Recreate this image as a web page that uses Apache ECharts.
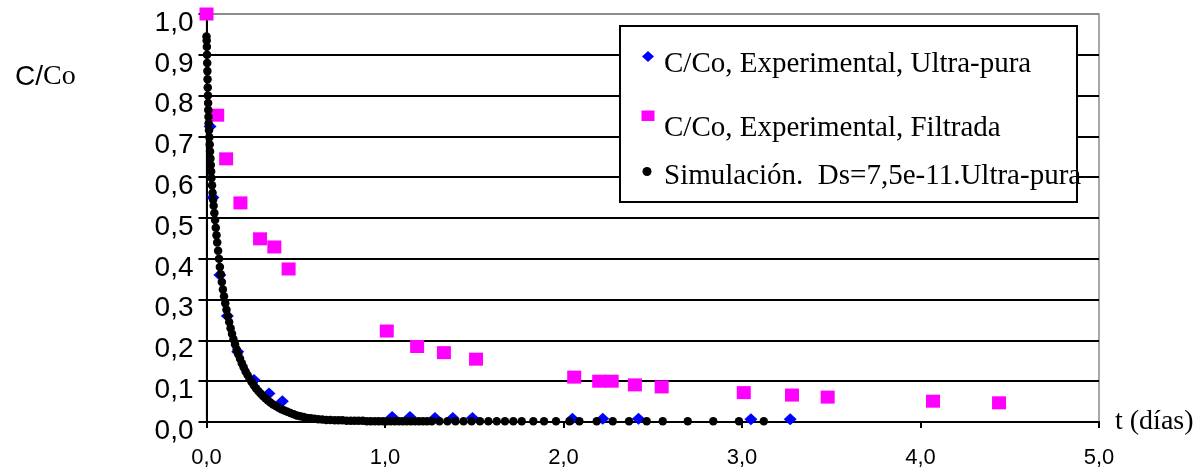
<!DOCTYPE html>
<html>
<head>
<meta charset="utf-8">
<script src="https://cdn.jsdelivr.net/npm/echarts@6/dist/echarts.min.js"></script>
<style>
  html, body { margin: 0; padding: 0; background: #fff; }
  #chart { width: 1204px; height: 472px; }
</style>
</head>
<body>
<div id="chart"></div>
<script>
// Series names (legend entries)
const nameUltra = 'C/Co, Experimental, Ultra-pura';
const nameFiltrada = 'C/Co, Experimental, Filtrada';
const nameSim = 'Simulación.  Ds=7,5e-11.Ultra-pura';

// Tick labels (decimal comma)
const xTickLabels = ['0,0', '1,0', '2,0', '3,0', '4,0', '5,0'];
const yTickLabels = ['0,0', '0,1', '0,2', '0,3', '0,4', '0,5', '0,6', '0,7', '0,8', '0,9', '1,0'];

// Experimental, ultra-pure water: time (days) and C/Co
const ultraT = [0.02, 0.036, 0.075, 0.117, 0.175, 0.266, 0.35, 0.425,
                1.04, 1.14, 1.28, 1.38, 1.49, 2.05, 2.22, 2.42, 3.05, 3.27];
const ultraC = [0.724, 0.55, 0.36, 0.26, 0.172, 0.103, 0.070, 0.051,
                0.012, 0.012, 0.010, 0.010, 0.010, 0.008, 0.008, 0.008, 0.007, 0.007];

// Experimental, filtered water: time (days) and C/Co
const filtT = [0.0, 0.06, 0.11, 0.19, 0.30, 0.38, 0.46, 1.01, 1.18, 1.33, 1.51,
               2.06, 2.20, 2.27, 2.40, 2.55, 3.01, 3.28, 3.48, 4.07, 4.44];
const filtC = [1.0, 0.752, 0.645, 0.537, 0.449, 0.429, 0.375, 0.223, 0.185, 0.170, 0.154,
               0.110, 0.100, 0.100, 0.091, 0.086, 0.072, 0.066, 0.061, 0.051, 0.047];

// Simulation, Ds = 7.5e-11: time (days) and C/Co
const simT = [0.000, 0.001, 0.002, 0.003, 0.004, 0.005, 0.006, 0.007, 0.008, 0.009,
              0.010, 0.011, 0.012, 0.014, 0.016, 0.018, 0.020, 0.022, 0.024, 0.026,
              0.028, 0.031, 0.034, 0.037, 0.040, 0.044, 0.048, 0.052, 0.056, 0.060,
              0.065, 0.070, 0.075, 0.080, 0.086, 0.092, 0.098, 0.105, 0.112, 0.119,
              0.127, 0.135, 0.143, 0.151, 0.160, 0.169, 0.178, 0.188, 0.198, 0.208,
              0.219, 0.230, 0.241, 0.253, 0.265, 0.277, 0.290, 0.303, 0.316, 0.330,
              0.344, 0.358, 0.373, 0.388, 0.404, 0.420, 0.436, 0.453, 0.470, 0.488,
              0.506, 0.525, 0.544, 0.564, 0.584, 0.605, 0.626, 0.648, 0.671, 0.694,
              0.718, 0.740, 0.762, 0.785, 0.808, 0.830, 0.852, 0.875, 0.898, 0.920,
              0.943, 0.965, 0.988, 1.010, 1.032, 1.055, 1.078, 1.100, 1.122, 1.145,
              1.168, 1.190, 1.213, 1.236, 1.262, 1.305, 1.350, 1.395, 1.440, 1.485,
              1.532, 1.579, 1.626, 1.672, 1.719, 1.766, 1.831, 1.891, 1.958, 2.033,
              2.089, 2.186, 2.276, 2.367, 2.466, 2.556, 2.696, 2.839, 2.983, 3.122];
const simC = [0.945, 0.935, 0.920, 0.900, 0.880, 0.860, 0.840, 0.820, 0.800, 0.782,
              0.765, 0.748, 0.732, 0.715, 0.698, 0.680, 0.663, 0.646, 0.630, 0.614,
              0.598, 0.580, 0.562, 0.545, 0.530, 0.512, 0.495, 0.476, 0.458, 0.440,
              0.420, 0.400, 0.380, 0.362, 0.343, 0.325, 0.308, 0.291, 0.275, 0.260,
              0.245, 0.230, 0.216, 0.203, 0.190, 0.178, 0.166, 0.155, 0.144, 0.134,
              0.124, 0.115, 0.106, 0.098, 0.090, 0.083, 0.076, 0.070, 0.064, 0.058,
              0.053, 0.048, 0.043, 0.039, 0.035, 0.031, 0.028, 0.025, 0.022, 0.019,
              0.016, 0.014, 0.012, 0.010, 0.009, 0.008, 0.007, 0.006, 0.005, 0.005,
              0.004, 0.004, 0.004, 0.003, 0.003, 0.003, 0.003, 0.003, 0.002, 0.002,
              0.002, 0.002, 0.002, 0.002, 0.002, 0.002, 0.002, 0.002, 0.002, 0.002,
              0.002, 0.002, 0.002, 0.002, 0.002, 0.002, 0.002, 0.002, 0.002, 0.002,
              0.002, 0.002, 0.002, 0.002, 0.002, 0.002, 0.002, 0.002, 0.002, 0.002,
              0.002, 0.002, 0.002, 0.002, 0.002, 0.002, 0.002, 0.002, 0.002, 0.002];

const pairs = (xs, ys) => xs.map((x, i) => [x, ys[i]]);

const sans = '"Liberation Sans", Arial, sans-serif';
const serif = '"Liberation Serif", "Times New Roman", serif';

const colorUltra = '#0000ff';
const colorFiltrada = '#ff00ff';
const colorSim = '#000000';

// Horizontal gridlines are black; the one on the top border is grey
const splitColors = yTickLabels.map((_, i) => (i === yTickLabels.length - 1 ? '#8c8c8c' : '#000'));

// One legend block per entry so each row sits at its own height;
// the key markers are drawn a little above the text line, as graphics.
const legendRow = (name, top) => ({
  data: [name],
  left: 649, top, padding: 0, itemWidth: 10, itemHeight: 10,
  selectedMode: false,
  itemStyle: { opacity: 0 },
  textStyle: { fontFamily: serif, fontSize: 29, color: '#000' }
});

const chart = echarts.init(document.getElementById('chart'), null, { renderer: 'canvas' });

chart.setOption({
  animation: false,
  backgroundColor: '#fff',
  title: {
    text: '{a|C/}{b|Co}',
    left: 10, top: 58,
    textStyle: {
      rich: {
        a: { fontFamily: sans, fontSize: 28, fontWeight: 'normal', color: '#000' },
        b: { fontFamily: serif, fontSize: 28, fontWeight: 'normal', color: '#000' }
      }
    }
  },
  grid: {
    left: 206.5, right: 105, top: 14, bottom: 50,
    show: true, borderColor: '#8c8c8c', borderWidth: 1.5, backgroundColor: 'transparent'
  },
  graphic: [
    {
      type: 'rect', z: 3,
      shape: { x: 620, y: 26, width: 457, height: 176 },
      style: { fill: '#fff', stroke: '#000', lineWidth: 2 }
    },
    {
      type: 'polygon', z: 5,
      shape: { points: [[648, 51], [654, 56.5], [648, 62], [642, 56.5]] },
      style: { fill: colorUltra }
    },
    {
      type: 'rect', z: 5,
      shape: { x: 641.5, y: 110.5, width: 13, height: 10.5 },
      style: { fill: colorFiltrada }
    },
    {
      type: 'circle', z: 5,
      shape: { cx: 647, cy: 171.5, r: 4.5 },
      style: { fill: colorSim }
    }
  ],
  legend: [
    legendRow(nameUltra, 49.5),
    legendRow(nameFiltrada, 114),
    legendRow(nameSim, 161.5)
  ],
  xAxis: {
    type: 'value', min: 0, max: 5, interval: 1,
    name: 't (días)', nameLocation: 'end', nameGap: 16,
    nameTextStyle: { fontFamily: serif, fontSize: 28, color: '#000', align: 'left', verticalAlign: 'middle' },
    axisLine: { show: true, onZero: false, lineStyle: { color: '#000', width: 2 } },
    axisTick: { show: true, inside: false, length: 6, lineStyle: { color: '#000', width: 2 } },
    axisLabel: {
      fontFamily: sans, fontSize: 22, color: '#000', margin: 25,
      formatter: v => xTickLabels[Math.round(v)]
    },
    splitLine: { show: false }
  },
  yAxis: {
    type: 'value', min: 0, max: 1, interval: 0.1,
    axisLine: { show: true, onZero: false, lineStyle: { color: '#000', width: 2 } },
    axisTick: { show: true, inside: false, length: 8, lineStyle: { color: '#000', width: 2 } },
    axisLabel: {
      fontFamily: sans, fontSize: 28, color: '#000', margin: 13,
      verticalAlign: 'top', lineHeight: 18,
      formatter: v => yTickLabels[Math.round(v * 10)]
    },
    splitLine: { show: true, lineStyle: { color: splitColors, width: 2 } }
  },
  series: [
    {
      name: nameUltra, type: 'scatter', symbol: 'diamond', symbolSize: [13, 12],
      itemStyle: { color: colorUltra, opacity: 1 }, data: pairs(ultraT, ultraC), z: 2
    },
    {
      name: nameFiltrada, type: 'scatter', symbol: 'rect', symbolSize: [14, 13],
      itemStyle: { color: colorFiltrada, opacity: 1 }, data: pairs(filtT, filtC), z: 2
    },
    {
      name: nameSim, type: 'scatter', symbol: 'circle', symbolSize: 8.5,
      itemStyle: { color: colorSim, opacity: 1 }, data: pairs(simT, simC), z: 2
    }
  ]
});
</script>
</body>
</html>
